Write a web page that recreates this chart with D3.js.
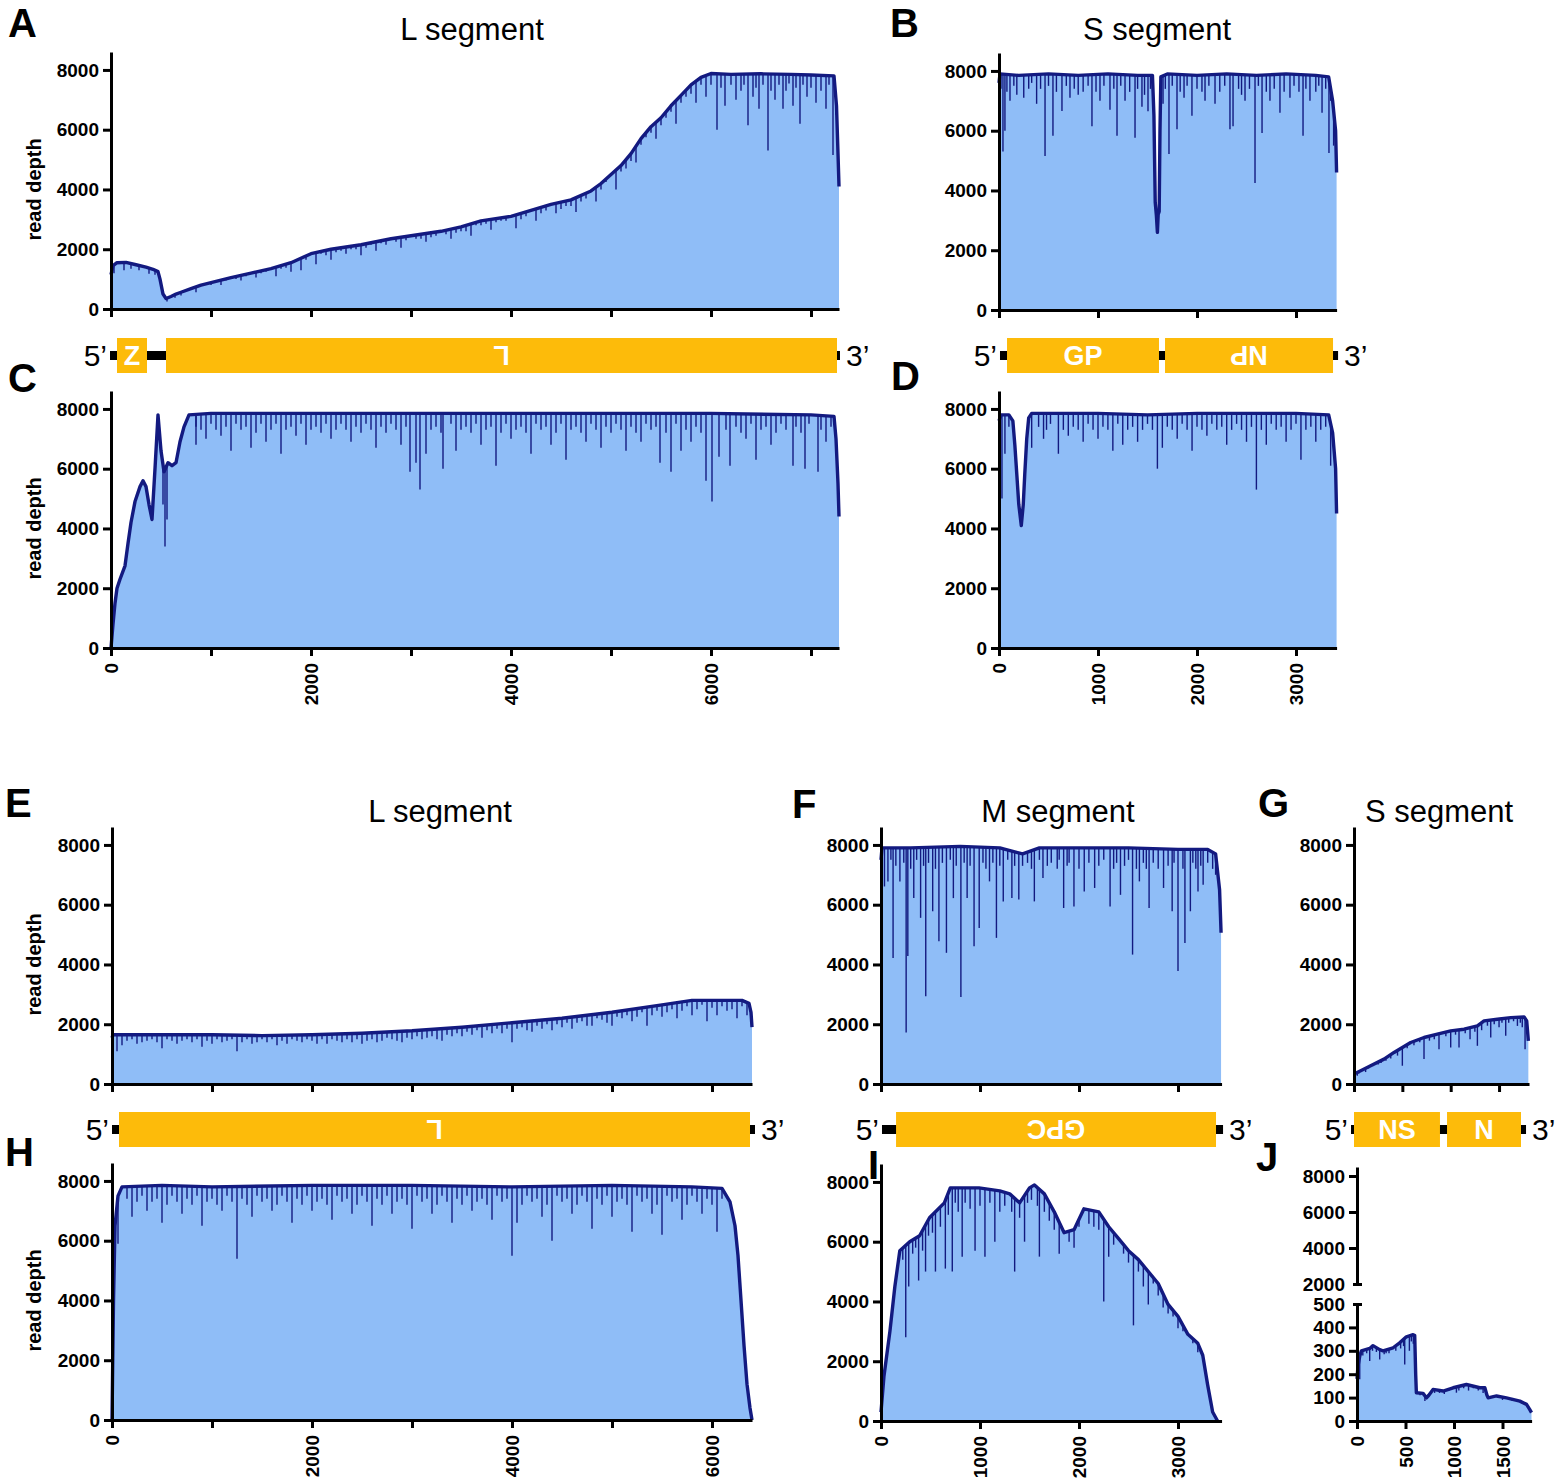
<!DOCTYPE html>
<html lang="en">
<meta charset="utf-8">

<head>
    <title>Read depth across segments</title>
    <script src="https://d3js.org/d3.v7.min.js"></script>
    <style>
        body { margin: 0; background: #fff; }
        svg text { font-family: "Liberation Sans", Arial, Helvetica, sans-serif; }
    </style>
</head>

<body>
    <div id="plot"></div>
    <script>

        // ---- values: [position (nt), read depth]
        // env* = top envelope of the coverage profile
        // dips* = deeper narrow drops, fine* = the shallow drops that make the ragged top

        var envA = [[0,1150],[20,1450],[60,1550],[150,1560],[250,1480],[350,1400],[420,1330],[470,1250],[490,1000],[520,500],[550,350],[600,420],[650,500],[700,560],[800,680],[900,800],[1000,880],[1200,1050],[1400,1200],[1600,1350],[1800,1550],[2000,1850],[2200,2000],[2500,2150],[2800,2350],[3000,2450],[3300,2600],[3500,2750],[3700,2950],[4000,3100],[4200,3300],[4400,3500],[4600,3650],[4800,3950],[4900,4200],[5000,4500],[5100,4800],[5200,5200],[5300,5700],[5400,6100],[5500,6400],[5600,6800],[5700,7150],[5800,7500],[5900,7750],[6000,7880],[6200,7850],[6500,7870],[6800,7850],[7000,7830],[7230,7800],[7255,6800],[7270,5200],[7280,4100]];
        var dipsA = [[30,1200],[130,1300],[200,1350],[280,1300],[380,1180],[440,1150],[560,250],[640,380],[700,450],[850,560],[1100,800],[1300,950],[1450,1050],[1650,1100],[1800,1250],[1900,1300],[2050,1500],[2200,1650],[2350,1850],[2500,1800],[2650,1950],[2900,2050],[3150,2250],[3400,2350],[3600,2450],[3800,2650],[4050,2700],[4250,2950],[4450,3200],[4650,3250],[4850,3600],[5050,4000],[5250,4900],[5450,5700],[5650,6200],[5850,6900],[5950,7100],[6060,6000],[6140,6800],[6250,7000],[6370,6150],[6420,7100],[6480,6700],[6570,5300],[6640,7000],[6720,6700],[6820,6800],[6890,6200],[6960,7100],[7050,6900],[7150,6700],[7220,5150]];
        var fineA = [[1000,800],[1150,950],[1250,1000],[1350,1100],[1500,1200],[1550,1250],[1700,1350],[1750,1380],[1950,1650],[2100,1850],[2150,1800],[2250,1900],[2300,1950],[2400,2000],[2450,2000],[2550,2050],[2600,2150],[2700,2200],[2750,2150],[2850,2250],[2950,2300],[3050,2350],[3100,2350],[3200,2400],[3250,2450],[3350,2500],[3450,2550],[3500,2600],[3550,2600],[3650,2800],[3700,2800],[3750,2850],[3850,2900],[3900,2950],[3950,2950],[4100,3000],[4150,3100],[4300,3200],[4350,3300],[4500,3350],[4550,3450],[4600,3450],[4700,3600],[4750,3700],[4900,4000],[4950,4250],[5100,4600],[5150,4700],[5200,4950],[5300,5500],[5350,5750],[5400,5900],[5500,6150],[5550,6400],[5600,6600],[5700,6900],[5750,7100],[5800,7200],[5900,7500],[6000,7500],[6100,7400],[6200,7500],[6300,7300],[6330,7500],[6450,7400],[6520,7500],[6600,7300],[6680,7500],[6750,7300],[6780,7550],[6850,7400],[6920,7500],[7000,7400],[7100,7300],[7180,7500],[7250,6500]];

        var envB = [[0,7600],[10,7900],[200,7850],[500,7900],[800,7850],[1100,7900],[1400,7850],[1550,7850],[1565,6500],[1578,3600],[1590,3150],[1600,2600],[1608,3200],[1618,3300],[1626,6000],[1635,7800],[1700,7900],[2000,7850],[2300,7900],[2600,7850],[2900,7900],[3200,7850],[3330,7800],[3370,7000],[3400,6000],[3410,4600]];
        var dipsB = [[40,5300],[60,6000],[111,7000],[250,7100],[380,6900],[465,5150],[545,5830],[636,6660],[717,7100],[800,7200],[939,6150],[1020,7000],[1121,6700],[1192,5830],[1273,7000],[1374,5760],[1444,6800],[1505,6650],[1657,6900],[1717,5220],[1798,6050],[1869,7100],[1949,6500],[2081,7000],[2182,6900],[2333,6050],[2364,6150],[2485,7000],[2586,4250],[2657,5920],[2737,7000],[2838,6600],[2939,7100],[3071,5830],[3141,7000],[3263,6600],[3333,5250],[3380,5500]];
        var fineB = [[20,7400],[80,7300],[150,7500],[180,7200],[300,7400],[330,7600],[420,7400],[500,7500],[580,7300],[680,7500],[760,7400],[850,7300],[900,7500],[980,7300],[1060,7500],[1160,7400],[1230,7500],[1320,7300],[1400,7400],[1470,7200],[1530,7400],[1680,7400],[1750,7500],[1830,7300],[1900,7500],[2000,7400],[2050,7300],[2120,7500],[2230,7300],[2280,7500],[2420,7400],[2450,7200],[2530,7400],[2620,7500],[2700,7300],[2780,7400],[2880,7300],[2980,7500],[3030,7300],[3100,7400],[3200,7300],[3230,7500],[3300,7400],[3350,7000]];

        var envC = [[0,0],[20,800],[40,1500],[60,2000],[90,2300],[140,2750],[170,3500],[200,4200],[240,4900],[290,5400],[320,5600],[350,5400],[380,4800],[410,4300],[440,6000],[470,7800],[500,6600],[530,5900],[570,6200],[610,6100],[650,6200],[690,6900],[730,7400],[780,7800],[1000,7850],[2000,7850],[3000,7850],[4000,7850],[5000,7850],[6000,7850],[7000,7800],[7230,7750],[7250,7000],[7270,5500],[7280,4400]];
        var dipsC = [[540,3400],[520,4800],[560,4300],[850,6800],[950,7000],[1100,7100],[1200,6600],[1400,6700],[1550,6900],[1700,6500],[1850,7100],[1950,6800],[2200,7000],[2400,6900],[2650,6700],[2900,6800],[2990,5900],[3050,6200],[3090,5300],[3150,6500],[3320,6000],[3450,6600],[3700,6800],[3850,6100],[4000,7000],[4200,6500],[4400,6800],[4550,6300],[4750,6900],[4900,6700],[5150,6600],[5300,6900],[5490,6200],[5600,5900],[5700,6600],[5800,6900],[5950,5600],[6010,4900],[6080,6400],[6190,6100],[6350,7000],[6450,6300],[6600,6800],[6820,6100],[6940,6000],[7070,5900],[7150,6900]];
        var fineC = [[850,7400],[900,7300],[1000,7500],[1050,7300],[1150,7400],[1250,7500],[1300,7300],[1350,7400],[1450,7200],[1500,7500],[1600,7300],[1650,7500],[1750,7300],[1800,7400],[1900,7500],[2000,7300],[2050,7400],[2100,7200],[2150,7500],[2250,7300],[2300,7500],[2350,7300],[2450,7400],[2500,7200],[2550,7500],[2600,7300],[2700,7400],[2750,7200],[2800,7500],[2850,7300],[2950,7400],[3200,7300],[3250,7400],[3300,7200],[3400,7500],[3500,7300],[3550,7400],[3600,7200],[3650,7500],[3750,7300],[3800,7400],[3900,7200],[3950,7500],[4050,7300],[4100,7400],[4150,7200],[4250,7500],[4300,7300],[4350,7400],[4450,7200],[4500,7500],[4600,7300],[4650,7400],[4700,7200],[4800,7500],[4850,7300],[4950,7400],[5000,7200],[5050,7500],[5100,7300],[5200,7400],[5250,7200],[5350,7500],[5400,7300],[5450,7400],[5550,7200],[5650,7500],[5750,7300],[5850,7400],[5900,7200],[6150,7300],[6250,7400],[6300,7200],[6400,7500],[6500,7300],[6550,7400],[6650,7200],[6700,7500],[6750,7300],[6850,7400],[6900,7200],[6980,7500],[7100,7300],[7200,7400]];

        var envD = [[0,7600],[20,7800],[100,7800],[140,7600],[160,6800],[180,5800],[200,4800],[225,4100],[245,4800],[260,5800],[280,7000],[300,7700],[330,7850],[600,7850],[1000,7850],[1500,7800],[2000,7850],[2500,7850],[3000,7850],[3330,7800],[3370,7200],[3400,6000],[3410,4500]];
        var dipsD = [[30,5000],[60,6500],[330,6700],[450,7000],[600,6500],[700,7100],[850,6900],[1000,7000],[1150,6600],[1250,6800],[1400,6900],[1600,6000],[1650,6700],[1800,7000],[1950,6600],[2100,7100],[2300,6800],[2500,6900],[2600,5300],[2700,6800],[2900,6900],[3050,6300],[3200,6900],[3350,6100]];
        var fineD = [[100,7400],[400,7400],[480,7300],[520,7500],[650,7300],[750,7400],[800,7300],[900,7500],[950,7300],[1050,7400],[1100,7300],[1200,7500],[1300,7300],[1350,7400],[1450,7300],[1500,7500],[1550,7300],[1700,7400],[1750,7300],[1850,7500],[1900,7300],[2000,7400],[2050,7300],[2150,7500],[2200,7300],[2250,7400],[2350,7300],[2400,7500],[2450,7300],[2550,7400],[2650,7300],[2750,7500],[2800,7300],[2850,7400],[2950,7300],[3000,7500],[3100,7300],[3150,7400],[3250,7300],[3300,7400]];

        var envE = [[0,1550],[10,1650],[500,1650],[1000,1650],[1500,1620],[2000,1650],[2500,1700],[3000,1780],[3500,1900],[4000,2050],[4500,2200],[5000,2400],[5500,2650],[5800,2800],[6300,2800],[6370,2700],[6390,2400],[6400,1900]];
        var dipsE = [[50,1100],[100,1300],[300,1400],[500,1200],[700,1450],[900,1250],[1100,1400],[1250,1100],[1450,1400],[1650,1300],[1850,1450],[2050,1350],[2300,1400],[2500,1350],[2700,1450],[2900,1400],[3100,1500],[3300,1450],[3500,1600],[3700,1550],[3900,1700],[4000,1400],[4200,1750],[4400,1800],[4600,1850],[4800,1950],[5000,1950],[5200,2100],[5350,1950],[5500,2250],[5650,2200],[5800,2300],[5950,2100],[6050,2300],[6150,2450],[6250,2200]];
        var fineE = [[150,1450],[200,1500],[250,1350],[350,1450],[400,1500],[450,1400],[550,1500],[600,1450],[650,1350],[750,1500],[800,1400],[850,1500],[950,1450],[1000,1350],[1050,1500],[1150,1450],[1200,1500],[1300,1400],[1350,1500],[1400,1350],[1500,1500],[1550,1400],[1600,1500],[1700,1450],[1750,1350],[1800,1500],[1900,1400],[1950,1500],[2000,1450],[2100,1500],[2150,1350],[2200,1500],[2250,1450],[2350,1500],[2400,1400],[2450,1500],[2550,1450],[2600,1500],[2650,1400],[2750,1550],[2800,1500],[2850,1450],[2950,1550],[3000,1500],[3050,1600],[3150,1550],[3200,1600],[3250,1500],[3350,1650],[3400,1600],[3450,1700],[3550,1750],[3600,1650],[3650,1800],[3750,1800],[3800,1700],[3850,1850],[3950,1850],[4050,1850],[4100,1900],[4150,1800],[4250,1950],[4300,1850],[4350,2000],[4450,2000],[4500,1900],[4550,2050],[4650,2050],[4700,2100],[4750,1950],[4850,2200],[4900,2150],[4950,2050],[5050,2250],[5100,2200],[5150,2300],[5250,2250],[5300,2400],[5400,2300],[5450,2450],[5550,2400],[5600,2500],[5700,2450],[5750,2600],[5850,2500],[5900,2650],[6000,2550],[6100,2600],[6200,2500],[6300,2600],[6350,2300]];

        var envF = [[0,7500],[10,7900],[300,7900],[800,7950],[1200,7900],[1430,7700],[1600,7900],[2000,7900],[2500,7900],[3000,7850],[3300,7850],[3380,7700],[3420,6500],[3435,5060]];
        var dipsF = [[35,6610],[70,6780],[122,4220],[191,6780],[254,1720],[271,4280],[331,6220],[400,5560],[452,2940],[522,5780],[585,4780],[661,4390],[731,6220],[807,2910],[870,6220],[940,4610],[992,5220],[1096,6780],[1166,4890],[1235,6110],[1322,6220],[1392,6170],[1549,6110],[1636,6890],[1845,5890],[1949,5940],[2053,6440],[2158,6560],[2314,5940],[2419,6330],[2541,4330],[2610,6780],[2708,5890],[2854,6560],[2941,5780],[3000,3780],[3070,4720],[3125,5780],[3202,6440],[3254,6670]];
        var fineF = [[100,7500],[150,7300],[230,7400],[300,7200],[360,7500],[430,7300],[480,7400],[550,7200],[620,7400],[700,7500],[760,7300],[840,7400],[900,7300],[1030,7400],[1060,7200],[1130,7400],[1200,7300],[1280,7500],[1350,7300],[1430,7300],[1480,7400],[1520,7200],[1600,7500],[1680,7300],[1720,7400],[1780,7200],[1800,7500],[1880,7300],[1900,7400],[2000,7200],[2100,7400],[2200,7300],[2250,7500],[2350,7200],[2380,7400],[2460,7300],[2500,7500],[2580,7200],[2650,7400],[2680,7200],[2750,7400],[2800,7200],[2900,7300],[2960,7400],[3050,7200],[3150,7400],[3180,7200],[3230,7300],[3300,7400],[3350,7200],[3380,7000]];

        var envG = [[0,333],[69,444],[172,611],[310,833],[414,1056],[500,1222],[586,1389],[724,1556],[862,1667],[1000,1778],[1138,1833],[1276,1944],[1345,2111],[1483,2167],[1621,2222],[1759,2244],[1786,2111],[1803,1444]];
        var dipsG = [[34,278],[120,400],[250,650],[380,850],[500,611],[724,833],[879,1167],[1000,1222],[1086,1222],[1200,1500],[1276,1278],[1414,1556],[1500,1900],[1569,1611],[1690,1944],[1769,1167]];
        var fineG = [[50,350],[100,480],[150,520],[200,600],[280,700],[330,780],[450,950],[550,1200],[620,1300],[680,1400],[780,1450],[830,1500],[950,1600],[1050,1650],[1150,1700],[1250,1750],[1320,1800],[1380,1950],[1450,2000],[1530,2050],[1600,2050],[1650,2100],[1720,2050],[1740,1900]];

        var envH = [[0,0],[15,4000],[30,6500],[60,7500],[100,7800],[500,7850],[1000,7800],[2000,7850],[3000,7850],[4000,7800],[5000,7850],[5800,7800],[6100,7750],[6180,7300],[6230,6500],[6260,5500],[6290,4000],[6320,2500],[6350,1200],[6380,400],[6400,0]];
        var dipsH = [[60,5900],[200,6800],[350,7000],[500,6600],[700,6900],[900,6500],[1100,7000],[1250,5400],[1400,6800],[1600,7000],[1800,6600],[2000,7000],[2200,6700],[2400,6900],[2600,6500],[2800,6900],[3000,6400],[3200,6900],[3400,6600],[3600,7000],[3800,6700],[4000,5500],[4050,6600],[4300,6800],[4400,6000],[4600,6900],[4800,6400],[5000,6800],[5200,6300],[5400,6900],[5500,6200],[5700,6700],[5900,6900],[6050,6300]];
        var fineH = [[150,7400],[250,7300],[300,7500],[400,7300],[450,7400],[550,7200],[600,7500],[650,7300],[750,7400],[800,7200],[850,7500],[950,7300],[1000,7400],[1050,7200],[1150,7500],[1200,7300],[1300,7400],[1350,7200],[1450,7500],[1500,7300],[1550,7400],[1650,7200],[1700,7500],[1750,7300],[1850,7400],[1900,7200],[1950,7500],[2050,7300],[2100,7400],[2150,7200],[2250,7500],[2300,7300],[2350,7400],[2450,7200],[2500,7500],[2550,7300],[2650,7400],[2700,7200],[2750,7500],[2850,7300],[2900,7400],[2950,7200],[3050,7500],[3100,7300],[3150,7400],[3250,7200],[3300,7500],[3350,7300],[3450,7400],[3500,7200],[3550,7500],[3650,7300],[3700,7400],[3750,7200],[3850,7500],[3900,7300],[3950,7400],[4100,7200],[4150,7500],[4200,7300],[4250,7400],[4350,7200],[4450,7500],[4500,7300],[4550,7400],[4650,7200],[4700,7500],[4750,7300],[4850,7400],[4900,7200],[4950,7500],[5050,7300],[5100,7400],[5150,7200],[5250,7500],[5300,7300],[5350,7400],[5450,7200],[5550,7500],[5600,7300],[5650,7400],[5750,7200],[5800,7500],[5850,7300],[5950,7400],[6000,7200],[6100,7400]];

        var envI = [[0,300],[30,1500],[90,3000],[140,4500],[190,5700],[290,6000],[390,6200],[490,6800],[640,7300],[700,7800],[990,7800],[1200,7700],[1300,7600],[1400,7300],[1500,7800],[1550,7900],[1650,7600],[1750,7000],[1850,6300],[1950,6400],[2050,7100],[2200,7000],[2300,6500],[2400,6100],[2500,5700],[2600,5400],[2700,5000],[2800,4600],[2900,3900],[3000,3500],[3100,2900],[3200,2600],[3250,2200],[3300,1200],[3350,300],[3400,0]];
        var dipsI = [[250,2800],[280,4500],[380,4700],[450,5000],[550,5000],[650,5100],[720,5000],[820,5500],[950,5700],[1050,5500],[1150,6000],[1350,5000],[1450,6000],[1600,5500],[1800,5600],[1950,5800],[2250,4000],[2300,5500],[2550,3200],[2650,4500],[2700,3900],[2850,3800],[3000,3100]];
        var fineI = [[220,5400],[320,5600],[350,5800],[420,5700],[480,6200],[520,6300],[600,6500],[680,6900],[750,7300],[780,7000],[850,7300],[900,7100],[1000,7200],[1100,7300],[1200,7000],[1250,7200],[1320,7000],[1400,6800],[1480,7300],[1520,7400],[1580,7200],[1650,7000],[1700,6700],[1750,6400],[1900,6000],[2000,6500],[2100,6600],[2150,6500],[2200,6400],[2350,5900],[2450,5600],[2500,5300],[2600,5000],[2750,4600],[2800,4200],[2900,3600],[2950,3500],[3050,3000],[3150,2600],[3200,2300]];

        var envJ = [[0,180],[10,234],[28,277],[45,300],[131,310],[165,322],[234,305],[268,300],[372,313],[440,334],[509,360],[578,369],[595,365],[605,200],[612,121],[681,118],[716,99],[740,110],[784,135],[888,128],[991,142],[1128,156],[1266,142],[1318,142],[1340,110],[1352,99],[1438,107],[1541,99],[1679,85],[1748,71],[1780,50],[1799,36]];
        var dipsJ = [[28,178],[131,256],[234,263],[300,290],[492,241],[540,300],[700,85],[1025,121],[1150,130],[1300,120]];
        var fineJ = [[60,280],[100,290],[160,300],[200,295],[280,285],[330,290],[400,300],[450,310],[480,320],[560,340],[580,330],[650,110],[800,120],[850,120],[900,115],[950,130],[1050,130],[1100,140],[1200,140],[1250,130],[1400,100],[1500,90],[1600,85],[1700,75]];

        // genome maps (nt)
        var genesL1 = [{ name: "Z", start: 60, end: 360, flip: false }, { name: "L", start: 550, end: 7260, flip: true }];
        var genesS1 = [{ name: "GP", start: 81, end: 1616, flip: false }, { name: "NP", start: 1677, end: 3374, flip: true }];
        var genesL2 = [{ name: "L", start: 70, end: 6380, flip: true }];
        var genesM2 = [{ name: "GPC", start: 152, end: 3384, flip: true }];
        var genesS2 = [{ name: "NS", start: 0, end: 889, flip: false }, { name: "N", start: 962, end: 1727, flip: false }];

        var depthTicks = [0, 2000, 4000, 6000, 8000];

        var fillColor = "#8fbdf7",
            lineColor = "#131a80",
            geneColor = "#fdbb0a";

        var svg = d3.select("#plot")
            .append("svg")
            .attr("width", 1559)
            .attr("height", 1483);

        function styleAxis(ax) {
            ax.attr("font-family", "Liberation Sans, Arial, sans-serif")
                .attr("font-size", 19)
                .attr("font-weight", "bold");
            ax.select(".domain").attr("stroke-width", 3);
            ax.selectAll(".tick line").attr("stroke-width", 3);
            ax.selectAll(".tick text").attr("fill", "#000");
        }

        function xScaleFor(p) {
            return d3.scaleLinear().domain([0, p.len]).range([p.left, p.left + p.len * p.k]);
        }

        // coverage profile: filled area, drops, outline
        function drawProfile(g, p, x, y) {
            g.append("path").datum(p.env)
                .attr("d", d3.area()
                    .x(function (d) { return x(d[0]); })
                    .y0(y(0))
                    .y1(function (d) { return y(d[1]); }))
                .attr("fill", fillColor);

            var topAt = d3.scaleLinear()
                .domain(p.env.map(function (d) { return d[0]; }))
                .range(p.env.map(function (d) { return d[1]; }));

            g.selectAll(".dip").data(p.dips.concat(p.fine)).join("line")
                .attr("class", "dip")
                .attr("x1", function (d) { return x(d[0]); })
                .attr("x2", function (d) { return x(d[0]); })
                .attr("y1", function (d) { return y(topAt(d[0])); })
                .attr("y2", function (d) { return y(d[1]); })
                .attr("stroke", lineColor)
                .attr("stroke-width", 1.4);

            g.append("path").datum(p.env)
                .attr("d", d3.line()
                    .x(function (d) { return x(d[0]); })
                    .y(function (d) { return y(d[1]); }))
                .attr("fill", "none")
                .attr("stroke", lineColor)
                .attr("stroke-width", 3.4)
                .attr("stroke-linejoin", "round");
        }

        function drawXAxis(g, p, x, yPos) {
            var ticks = d3.range(0, p.len, p.xstep);
            var xAxis = g.append("g")
                .attr("transform", "translate(0," + yPos + ")")
                .call(d3.axisBottom(x).tickValues(ticks).tickSize(8).tickSizeOuter(0)
                    .tickFormat(function (d) { return p.xlabels && d % p.xlabels === 0 ? d : ""; }));
            styleAxis(xAxis);
            xAxis.selectAll(".tick text")
                .attr("transform", "rotate(-90)")
                .attr("text-anchor", "end")
                .attr("x", -15)
                .attr("y", 0)
                .attr("dy", "0.35em");
        }

        function drawPanel(p) {
            var g = svg.append("g");
            var x = xScaleFor(p);
            var y = d3.scaleLinear().domain([0, 8600]).range([p.bottom, p.top]);

            drawProfile(g, p, x, y);

            var yAxis = g.append("g")
                .attr("transform", "translate(" + p.left + ",0)")
                .call(d3.axisLeft(y).tickValues(depthTicks).tickFormat(d3.format("d"))
                    .tickSize(8).tickSizeOuter(0).tickPadding(4));
            styleAxis(yAxis);

            drawXAxis(g, p, x, p.bottom);

            if (p.ylabel) {
                g.append("text")
                    .attr("transform", "translate(41," + ((p.bottom + y(8000)) / 2) + ") rotate(-90)")
                    .attr("text-anchor", "middle")
                    .attr("font-size", 20)
                    .attr("font-weight", "bold")
                    .text("read depth");
            }
        }

        // panel J has a broken depth axis
        function drawPanelJ(p) {
            var g = svg.append("g");
            var x = xScaleFor(p);
            var yLow = d3.scaleLinear().domain([0, 500]).range([p.bottom, 1304]);
            var yHigh = d3.scaleLinear().domain([2000, 8500]).range([1284, 1167]);

            drawProfile(g, p, x, yLow);

            var low = g.append("g")
                .attr("transform", "translate(" + p.left + ",0)")
                .call(d3.axisLeft(yLow).tickValues([0, 100, 200, 300, 400, 500]).tickFormat(d3.format("d"))
                    .tickSize(8).tickSizeOuter(0).tickPadding(4));
            styleAxis(low);
            low.selectAll(".tick").filter(function (d) { return d === 500; })
                .select("line").attr("x1", -4).attr("x2", 5);

            var high = g.append("g")
                .attr("transform", "translate(" + p.left + ",0)")
                .call(d3.axisLeft(yHigh).tickValues([2000, 4000, 6000, 8000]).tickFormat(d3.format("d"))
                    .tickSize(8).tickSizeOuter(0).tickPadding(4));
            styleAxis(high);
            high.selectAll(".tick").filter(function (d) { return d === 2000; })
                .select("line").attr("x1", -4).attr("x2", 5);

            drawXAxis(g, p, x, p.bottom);
        }

        // genome map between the two rows of a block
        function drawGenes(p, cy, backbone, genes) {
            var x = xScaleFor(p);
            var g = svg.append("g");
            g.append("rect")
                .attr("x", x(backbone[0]))
                .attr("y", cy - 4.5)
                .attr("width", x(backbone[1]) - x(backbone[0]))
                .attr("height", 9)
                .attr("fill", "#000");
            g.selectAll(".gene").data(genes).join("rect")
                .attr("class", "gene")
                .attr("x", function (d) { return x(d.start); })
                .attr("y", cy - 17.5)
                .attr("width", function (d) { return x(d.end) - x(d.start); })
                .attr("height", 35)
                .attr("fill", geneColor);
            g.selectAll(".glabel").data(genes).join("text")
                .attr("class", "glabel")
                .attr("x", function (d) { return (x(d.start) + x(d.end)) / 2; })
                .attr("y", cy)
                .attr("dy", "0.36em")
                .attr("text-anchor", "middle")
                .attr("font-size", 27)
                .attr("font-weight", "bold")
                .attr("fill", "#fff")
                .attr("transform", function (d) {
                    return d.flip ? "rotate(180," + (x(d.start) + x(d.end)) / 2 + "," + cy + ")" : null;
                })
                .text(function (d) { return d.name; });
            g.append("text")
                .attr("x", x(backbone[0]) - 3)
                .attr("y", cy + 10)
                .attr("text-anchor", "end")
                .attr("font-size", 30)
                .text("5\u2019");
            g.append("text")
                .attr("x", x(backbone[1]) + 6)
                .attr("y", cy + 10)
                .attr("font-size", 30)
                .text("3\u2019");
        }

        var pA = { env: envA, dips: dipsA, fine: fineA, left: 111, k: 0.1, len: 7280, bottom: 309, top: 52, xstep: 1000, ylabel: true };
        var pB = { env: envB, dips: dipsB, fine: fineB, left: 999, k: 0.099, len: 3410, bottom: 310, top: 53, xstep: 1000 };
        var pC = { env: envC, dips: dipsC, fine: fineC, left: 111, k: 0.1, len: 7280, bottom: 648, top: 391, xstep: 1000, xlabels: 2000, ylabel: true };
        var pD = { env: envD, dips: dipsD, fine: fineD, left: 999, k: 0.099, len: 3410, bottom: 648, top: 391, xstep: 1000, xlabels: 1000 };
        var pE = { env: envE, dips: dipsE, fine: fineE, left: 112, k: 0.1, len: 6400, bottom: 1084, top: 827, xstep: 1000, ylabel: true };
        var pF = { env: envF, dips: dipsF, fine: fineF, left: 881, k: 0.099, len: 3440, bottom: 1084, top: 827, xstep: 1000 };
        var pG = { env: envG, dips: dipsG, fine: fineG, left: 1354, k: 0.0967, len: 1810, bottom: 1084, top: 827, xstep: 500 };
        var pH = { env: envH, dips: dipsH, fine: fineH, left: 112, k: 0.1, len: 6400, bottom: 1420, top: 1163, xstep: 1000, xlabels: 2000, ylabel: true };
        var pI = { env: envI, dips: dipsI, fine: fineI, left: 881, k: 0.099, len: 3440, bottom: 1421, top: 1164, xstep: 1000, xlabels: 1000 };
        var pJ = { env: envJ, dips: dipsJ, fine: fineJ, left: 1357, k: 0.097, len: 1800, bottom: 1421, xstep: 500, xlabels: 500 };

        [pA, pB, pC, pD, pE, pF, pG, pH, pI].forEach(drawPanel);
        drawPanelJ(pJ);

        drawGenes(pA, 355.5, [-10, 7290], genesL1);
        drawGenes(pB, 355.5, [10, 3425], genesS1);
        drawGenes(pE, 1129.5, [0, 6430], genesL2);
        drawGenes(pF, 1129.5, [10, 3455], genesM2);
        drawGenes(pG, 1129.5, [-31, 1779], genesS2);

        // titles
        var titles = [["L segment", 472, 40], ["S segment", 1157, 40], ["L segment", 440, 822], ["M segment", 1058, 822], ["S segment", 1439, 822]];
        svg.selectAll(".title").data(titles).join("text")
            .attr("class", "title")
            .attr("x", function (d) { return d[1]; })
            .attr("y", function (d) { return d[2]; })
            .attr("text-anchor", "middle")
            .attr("font-size", 31)
            .text(function (d) { return d[0]; });

        // panel letters
        var letters = [["A", 8, 37], ["B", 890, 37], ["C", 8, 392], ["D", 891, 390], ["E", 5, 817], ["F", 792, 818], ["G", 1258, 817], ["H", 5, 1166], ["I", 868, 1179], ["J", 1256, 1171]];
        svg.selectAll(".letter").data(letters).join("text")
            .attr("class", "letter")
            .attr("x", function (d) { return d[1]; })
            .attr("y", function (d) { return d[2]; })
            .attr("font-size", 40)
            .attr("font-weight", "bold")
            .text(function (d) { return d[0]; });

    </script>

</body>

</html>
